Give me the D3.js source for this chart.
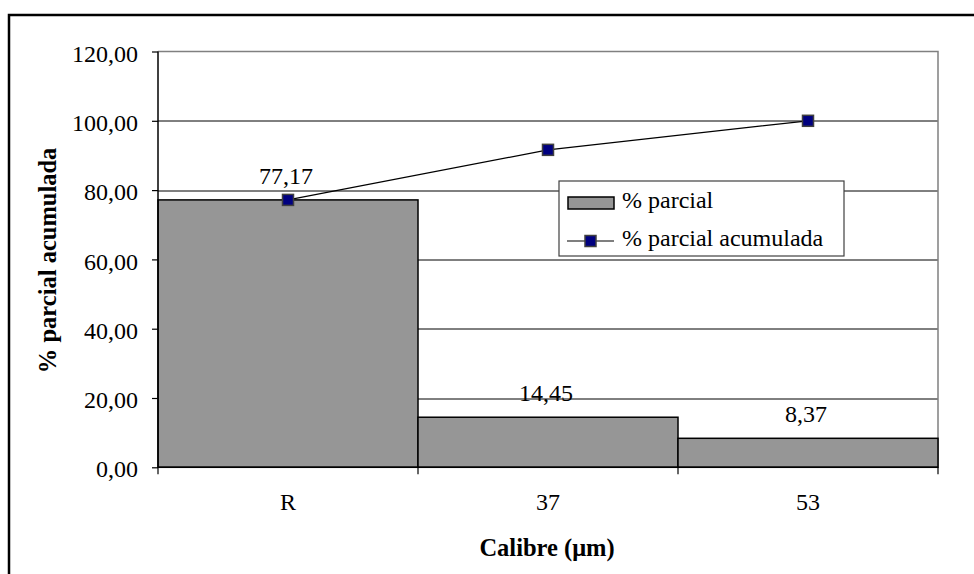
<!DOCTYPE html>
<html>
<head>
<meta charset="utf-8">
<script src="https://cdn.jsdelivr.net/npm/d3@7"></script>
<style>
  html, body { margin: 0; padding: 0; background: #fff; }
  svg { display: block; }
  svg text { font-family: "Liberation Serif", "Times New Roman", Times, "DejaVu Serif", serif; fill: #000; }
</style>
</head>
<body>
<svg id="chart" width="974" height="574"></svg>
<script>
// Data
const categories = ["R", "37", "53"];
const partial = [77.17, 14.45, 8.37];
const cumulative = [77.17, 91.62, 100.00];
const yTicks = [0, 20, 40, 60, 80, 100, 120];
const seriesNames = ["% parcial", "% parcial acumulada"];

const W = 974, H = 574;
const SERIF = "'Liberation Serif', 'Times New Roman', Times, 'DejaVu Serif', serif";
const FS = 24, FSB = 24.5;
const margin = { left: 158, right: 36, top: 51.5, bottom: 106.7 };
const plotW = W - margin.left - margin.right;
const plotH = H - margin.top - margin.bottom;

const fmt = d3.formatLocale({ decimal: ",", thousands: ".", grouping: [3], currency: ["", ""] }).format(".2f");

const svg = d3.select("#chart").style("font-family", SERIF);

// Outer chart frame
svg.append("rect")
  .attr("x", 9).attr("y", 15)
  .attr("width", W).attr("height", H)
  .attr("fill", "#fff").attr("stroke", "#000").attr("stroke-width", 2.5);

const g = svg.append("g").attr("transform", `translate(${margin.left},${margin.top})`);

const x = d3.scaleBand().domain(categories).range([0, plotW]).padding(0);
const y = d3.scaleLinear().domain([0, 120]).range([plotH, 0]);

// Gridlines
g.append("g").selectAll("line")
  .data(yTicks.filter(t => t > 0 && t < 120))
  .join("line")
  .attr("x1", 0).attr("x2", plotW)
  .attr("y1", d => Math.round(y(d)) + 0.5).attr("y2", d => Math.round(y(d)) + 0.5)
  .attr("stroke", "#000").attr("stroke-width", 1);

// Plot area border (top and right)
g.append("path")
  .attr("d", `M0,${y(120)}H${plotW}V${plotH}`)
  .attr("fill", "none").attr("stroke", "#808080").attr("stroke-width", 1.5);

// Bars
g.append("g").selectAll("rect")
  .data(partial)
  .join("rect")
  .attr("x", (d, i) => x(categories[i]))
  .attr("y", d => y(d))
  .attr("width", x.bandwidth())
  .attr("height", d => plotH - y(d))
  .attr("fill", "#969696")
  .attr("stroke", "#000").attr("stroke-width", 1.5);

// Bar value labels
g.append("g").selectAll("text")
  .data(partial)
  .join("text")
  .attr("x", (d, i) => x(categories[i]) + x.bandwidth() / 2 - 2)
  .attr("y", d => y(d) - 16)
  .attr("text-anchor", "middle")
  .attr("font-family", SERIF)
  .attr("font-size", FS)
  .text(d => fmt(d));

// Y axis
const yAxis = d3.axisLeft(y).tickValues(yTicks).tickSize(6).tickPadding(14).tickFormat(fmt);
const ya = g.append("g").call(yAxis).attr("font-family", SERIF);
ya.select(".domain").attr("stroke", "#000").attr("stroke-width", 1.5).attr("d", `M0,${y(120)}V${plotH}`);
ya.selectAll(".tick line").attr("stroke", "#000").attr("stroke-width", 1.2);
ya.selectAll(".tick text")
  .attr("font-family", SERIF)
  .attr("font-size", FS).attr("fill", "#000").attr("dy", "0.4em");

// X axis with ticks at band boundaries
const xa = g.append("g").attr("transform", `translate(0,${plotH})`);
xa.append("line").attr("x1", 0).attr("x2", plotW).attr("y1", 0).attr("y2", 0)
  .attr("stroke", "#000").attr("stroke-width", 1.5);
xa.selectAll("line.tk")
  .data(categories.map(c => x(c)).concat([plotW]))
  .join("line").attr("class", "tk")
  .attr("x1", d => d).attr("x2", d => d)
  .attr("y1", 0).attr("y2", 7)
  .attr("stroke", "#000").attr("stroke-width", 1.2);
xa.selectAll("text")
  .data(categories)
  .join("text")
  .attr("x", d => x(d) + x.bandwidth() / 2)
  .attr("y", 43)
  .attr("text-anchor", "middle")
  .attr("font-family", SERIF)
  .attr("font-size", FS)
  .text(d => d);

// Cumulative line
const cx = (d, i) => x(categories[i]) + x.bandwidth() / 2;
const line = d3.line().x((d, i) => cx(d, i)).y(d => y(d));
g.append("path")
  .datum(cumulative)
  .attr("d", line)
  .attr("fill", "none").attr("stroke", "#000").attr("stroke-width", 1.2);
g.append("g").selectAll("rect")
  .data(cumulative)
  .join("rect")
  .attr("x", (d, i) => cx(d, i) - 5.5)
  .attr("y", d => y(d) - 5.5)
  .attr("width", 11).attr("height", 11)
  .attr("fill", "#000080")
  .attr("stroke", "#404040").attr("stroke-width", 1.5);

// Axis titles
svg.append("text")
  .attr("transform", `translate(56,${margin.top + plotH / 2 + 1}) rotate(-90)`)
  .attr("text-anchor", "middle")
  .attr("font-family", SERIF)
  .attr("font-size", FSB).attr("font-weight", "bold")
  .text("% parcial acumulada");
svg.append("text")
  .attr("x", margin.left + plotW / 2 - 1).attr("y", 556)
  .attr("text-anchor", "middle")
  .attr("font-family", SERIF)
  .attr("font-size", FSB).attr("font-weight", "bold")
  .text("Calibre (\u03bcm)");

// Legend
const lg = svg.append("g").attr("transform", "translate(559,181)").attr("font-family", SERIF);
lg.append("rect").attr("x", 0).attr("y", 0).attr("width", 285).attr("height", 75)
  .attr("fill", "#fff").attr("stroke", "#404040").attr("stroke-width", 1.2);
lg.append("rect").attr("x", 9).attr("y", 16).attr("width", 46).attr("height", 12)
  .attr("fill", "#969696").attr("stroke", "#000").attr("stroke-width", 1.5);
lg.append("text").attr("x", 63).attr("y", 27).attr("font-size", FS).text(seriesNames[0]);
lg.append("line").attr("x1", 8).attr("x2", 55).attr("y1", 60).attr("y2", 60)
  .attr("stroke", "#000").attr("stroke-width", 1.2);
lg.append("rect").attr("x", 31.5 - 5.5).attr("y", 60 - 5.5).attr("width", 11).attr("height", 11)
  .attr("fill", "#000080").attr("stroke", "#404040").attr("stroke-width", 1.5);
lg.append("text").attr("x", 63).attr("y", 65).attr("font-size", FS).text(seriesNames[1]);
</script>
</body>
</html>
